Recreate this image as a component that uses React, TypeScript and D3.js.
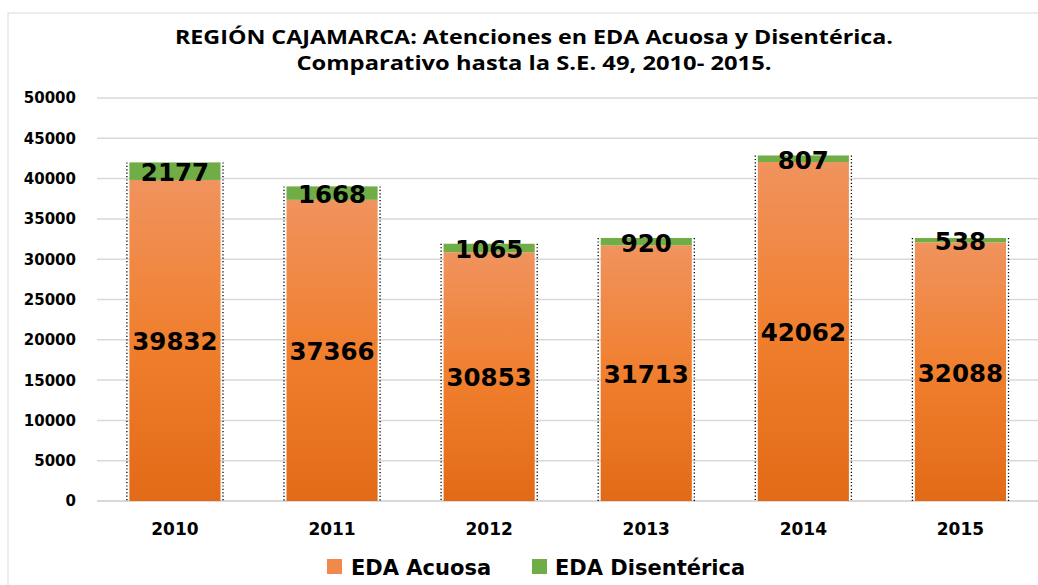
import React from "react";
import * as d3 from "d3";

const years = ["2010", "2011", "2012", "2013", "2014", "2015"];
const acuosa = [39832, 37366, 30853, 31713, 42062, 32088];
const disenterica = [2177, 1668, 1065, 920, 807, 538];
const yTicks = [0, 5000, 10000, 15000, 20000, 25000, 30000, 35000, 40000, 45000, 50000];
const titleLines = [
  "REGIÓN CAJAMARCA: Atenciones en EDA Acuosa y Disentérica.",
  "Comparativo hasta la S.E. 49, 2010- 2015.",
];
const seriesNames = ["EDA Acuosa", "EDA Disentérica"];

const W = 1038;
const H = 585;
const GREEN = "#70AD47";

export default function App() {
  const x = d3.scaleBand<string>().domain(years).range([96.4, 1039]).paddingInner(0.42).paddingOuter(0.21);
  const y = d3.scaleLinear().domain([0, 50000]).range([501, 98]);
  const bw = x.bandwidth();
  const valueFont = "'DejaVu Sans', Verdana, sans-serif";
  const titleLens = [718, 475];

  return (
    <svg width={W} height={H} style={{ position: "absolute", left: 0, top: 0, background: "#fff" }}>
      <defs>
        <linearGradient id="og" x1="0" y1="0" x2="0" y2="1">
          <stop offset="0" stopColor="#F0935E" />
          <stop offset="0.5" stopColor="#F07F2E" />
          <stop offset="1" stopColor="#E26A17" />
        </linearGradient>
      </defs>
      <rect x={0} y={0} width={W} height={H} fill="#fff" />
      <rect x={8} y={13} width={W + 10} height={H + 10} fill="none" stroke="#d9d9d9" strokeWidth={1} />
      {titleLines.map((t, i) => (
        <text key={i} x={534} y={44 + i * 26} textAnchor="middle" fontFamily="'Open Sans', sans-serif"
          fontWeight="bold" fontSize={20} textLength={titleLens[i]} lengthAdjust="spacingAndGlyphs" fill="#000">{t}</text>
      ))}
      {yTicks.map((t) => (
        <g key={t}>
          <line x1={97} x2={1039} y1={y(t)} y2={y(t)} stroke="#d9d9d9" strokeWidth={t === 0 ? 2 : 1.5} />
          <text x={76} y={y(t)} dy="0.36em" textAnchor="end" fontFamily={valueFont} fontWeight="bold" fontSize={15} fill="#000">{t}</text>
        </g>
      ))}
      {years.map((yr, i) => {
        const x0 = x(yr)!;
        const a = acuosa[i];
        const d = disenterica[i];
        const yA = y(a);
        const yT = y(a + d);
        return (
          <g key={yr}>
            <rect x={x0} y={yA} width={bw} height={y(0) - yA} fill="url(#og)" />
            <rect x={x0} y={yT} width={bw} height={yA - yT} fill={GREEN} />
            <line x1={x0 - 2.5} x2={x0 - 2.5} y1={yT} y2={y(0)} stroke="#000" strokeWidth={1.3} strokeDasharray="1.2,2.2" />
            <line x1={x0 + bw + 2.5} x2={x0 + bw + 2.5} y1={yT} y2={y(0)} stroke="#000" strokeWidth={1.3} strokeDasharray="1.2,2.2" />
            <text x={x0 + bw / 2} y={(yA + y(0)) / 2 + 1} dy="0.36em" textAnchor="middle" fontFamily={valueFont} fontWeight="bold" fontSize={24.5} fill="#000">{a}</text>
            <text x={x0 + bw / 2} y={(yA + yT) / 2 + 1} dy="0.36em" textAnchor="middle" fontFamily={valueFont} fontWeight="bold" fontSize={24.5} fill="#000">{d}</text>
            <text x={x0 + bw / 2} y={529} dy="0.36em" textAnchor="middle" fontFamily={valueFont} fontWeight="bold" fontSize={17} fill="#000">{yr}</text>
          </g>
        );
      })}
      <g>
        <rect x={327} y={559} width={15} height={15} fill="#F0894A" />
        <text x={351} y={567} dy="0.36em" fontFamily={valueFont} fontWeight="bold" fontSize={21} fill="#000">{seriesNames[0]}</text>
        <rect x={532} y={559} width={15} height={15} fill={GREEN} />
        <text x={555} y={567} dy="0.36em" fontFamily={valueFont} fontWeight="bold" fontSize={21} fill="#000">{seriesNames[1]}</text>
      </g>
    </svg>
  );
}
